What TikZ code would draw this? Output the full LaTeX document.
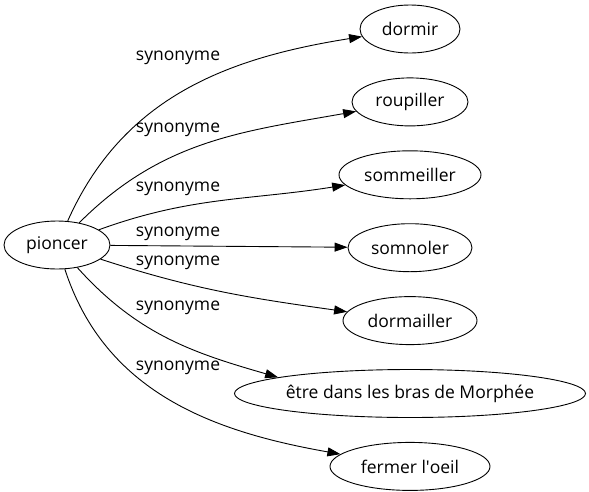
\documentclass[tikz,border=0pt]{standalone}
\usepackage{fontspec}
\setmainfont{Open Sans}
\usetikzlibrary{arrows.meta, positioning, shapes.geometric}

\begin{document}
\begin{tikzpicture}[
  x=1pt, y=1pt,
  word/.style={
    ellipse,
    draw,
    line width=0.9pt,
    inner sep=0pt,
    minimum height=48pt
  },
  every node/.style={font=\fontsize{17.5}{20}\selectfont},
  arrow/.style={-{Triangle[length=13pt, width=9pt]}, line width=0.9pt}
]

\useasboundingbox (0,0) rectangle (589,-491);

% ------------------------------------------------------------
% Source word
% ------------------------------------------------------------

\node[word, minimum width=106pt] (pioncer) at (57,-245) {pioncer};

% ------------------------------------------------------------
% Synonyms, one column
% ------------------------------------------------------------

\node[word, minimum width=100pt] (dormir) at (410,-29) {dormir};
\node[word, minimum width=116pt, below=24pt of dormir] (roupiller) {roupiller};
\node[word, minimum width=142pt, below=24pt of roupiller] (sommeiller) {sommeiller};
\node[word, minimum width=124pt, below=24pt of sommeiller] (somnoler) {somnoler};
\node[word, minimum width=134pt, below=24pt of somnoler] (dormailler) {dormailler};
\node[word, minimum width=346pt, below=24pt of dormailler] (morphee) {être dans les bras de Morphée};
\node[word, minimum width=160pt, below=24pt of morphee] (oeil) {fermer l\textquotesingle oeil};

% ------------------------------------------------------------
% Relations
% ------------------------------------------------------------

\draw[arrow] (pioncer) to[out=66, in=189] (dormir);
\draw[arrow] (pioncer) to[out=45, in=190] (roupiller);
\draw[arrow] (pioncer) to[out=20, in=189] (sommeiller);
\draw[arrow] (pioncer) -- (somnoler);
\draw[arrow] (pioncer) to[out=-18, in=172] (dormailler);
\draw[arrow] (pioncer) to[out=-48, in=164] (morphee.173);
\draw[arrow] (pioncer) to[out=-72, in=170] (oeil);

\node (s1) at (178,-58) {synonyme};
\node (s2) at (178,-130) {synonyme};
\node (s3) at (178,-189) {synonyme};
\node (s4) at (178,-234) {synonyme};
\node (s5) at (178,-263) {synonyme};
\node (s6) at (178,-308) {synonyme};
\node (s7) at (178,-368) {synonyme};

\end{tikzpicture}
\end{document}
